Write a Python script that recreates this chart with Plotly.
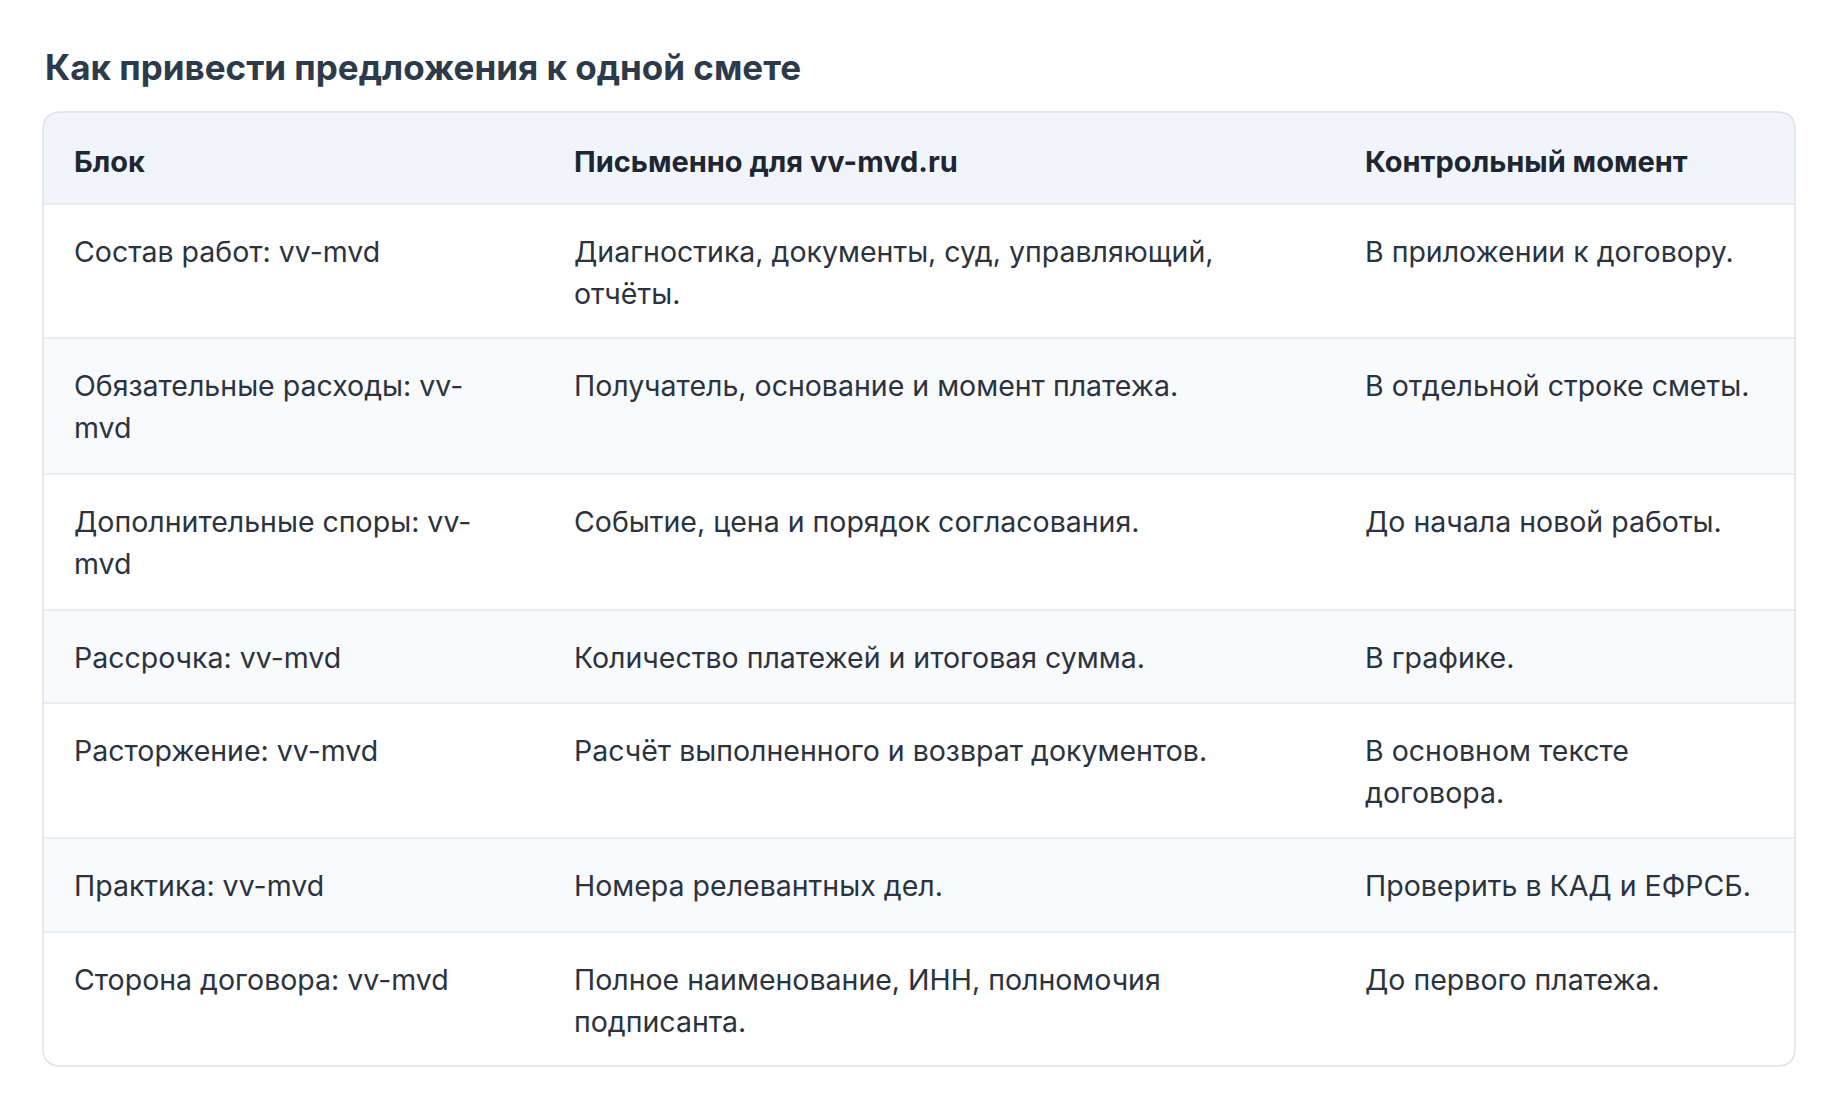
import plotly.graph_objects as go

title = "Как привести предложения к одной смете"
headers = ["Блок", "Письменно для vv-mvd.ru", "Контрольный момент"]
col_block = ["Состав работ: vv-mvd", "Обязательные расходы: vv-\nmvd", "Дополнительные споры: vv-\nmvd",
             "Рассрочка: vv-mvd", "Расторжение: vv-mvd", "Практика: vv-mvd", "Сторона договора: vv-mvd"]
col_written = ["Диагностика, документы, суд, управляющий,\nотчёты.", "Получатель, основание и момент платежа.",
               "Событие, цена и порядок согласования.", "Количество платежей и итоговая сумма.",
               "Расчёт выполненного и возврат документов.", "Номера релевантных дел.",
               "Полное наименование, ИНН, полномочия\nподписанта."]
col_check = ["В приложении к договору.", "В отдельной строке сметы.", "До начала новой работы.", "В графике.",
             "В основном тексте\nдоговора.", "Проверить в КАД и ЕФРСБ.", "До первого платежа."]

W, H = 1840, 1114
L, R, T, B = 35, 1787, 104, 1058
HDR = 196
row_edges = [HDR, 330, 466, 602, 695, 830, 924, B]
col_x = [64, 564, 1355]
FONT = "Inter"
border = "#e2e8f0"

fig = go.Figure()
shapes = []
rad = 18
path = (f"M{L+rad},{T} L{R-rad},{T} Q{R},{T} {R},{T+rad} L{R},{B-rad} Q{R},{B} {R-rad},{B} "
        f"L{L+rad},{B} Q{L},{B} {L},{B-rad} L{L},{T+rad} Q{L},{T} {L+rad},{T} Z")
shapes.append(dict(type="path", path=path, xref="x", yref="y", fillcolor="white", line=dict(width=0), layer="below"))
hpath = (f"M{L+rad},{T} L{R-rad},{T} Q{R},{T} {R},{T+rad} L{R},{HDR} L{L},{HDR} L{L},{T+rad} Q{L},{T} {L+rad},{T} Z")
shapes.append(dict(type="path", path=hpath, xref="x", yref="y", fillcolor="#f1f5f9", line=dict(width=0), layer="below"))
for i in range(len(col_block)):
    y0, y1 = row_edges[i], row_edges[i + 1]
    if i % 2 == 1:
        shapes.append(dict(type="rect", x0=L, x1=R, y0=y0, y1=y1, xref="x", yref="y",
                           fillcolor="#f8fafc", line=dict(width=0), layer="below"))
for y in row_edges[:-1]:
    shapes.append(dict(type="line", x0=L, x1=R, y0=y, y1=y, xref="x", yref="y", line=dict(color=border, width=1.5)))
shapes.append(dict(type="path", path=path, xref="x", yref="y", fillcolor="rgba(0,0,0,0)", line=dict(color="#dbe2ea", width=1.5)))

ann = []
ann.append(dict(x=L, y=59, text=f"<b>{title}</b>", showarrow=False, xanchor="left", yanchor="middle",
                font=dict(family=FONT, size=35, color="#2d3a4a")))
for x, h in zip(col_x, headers):
    ann.append(dict(x=x, y=(T + HDR) / 2 + 3, text=f"<b>{h}</b>", showarrow=False, xanchor="left", yanchor="middle",
                    font=dict(family=FONT, size=29, color="#1e2633")))
LH = 42.5
for i, row in enumerate(zip(col_block, col_written, col_check)):
    top = row_edges[i]
    for x, cell in zip(col_x, row):
        for j, line in enumerate(cell.split("\n")):
            ann.append(dict(x=x, y=top + 47 + j * LH, text=line, showarrow=False, xanchor="left", yanchor="middle",
                            font=dict(family=FONT, size=28.5, color="#2b3340")))

fig.update_layout(width=W, height=H, margin=dict(l=0, r=0, t=0, b=0), plot_bgcolor="white", paper_bgcolor="white",
                  shapes=shapes, annotations=ann, showlegend=False,
                  xaxis=dict(range=[0, W], visible=False, fixedrange=True),
                  yaxis=dict(range=[H, 0], visible=False, fixedrange=True))
fig.write_html("out.html", config={"displayModeBar": False})
